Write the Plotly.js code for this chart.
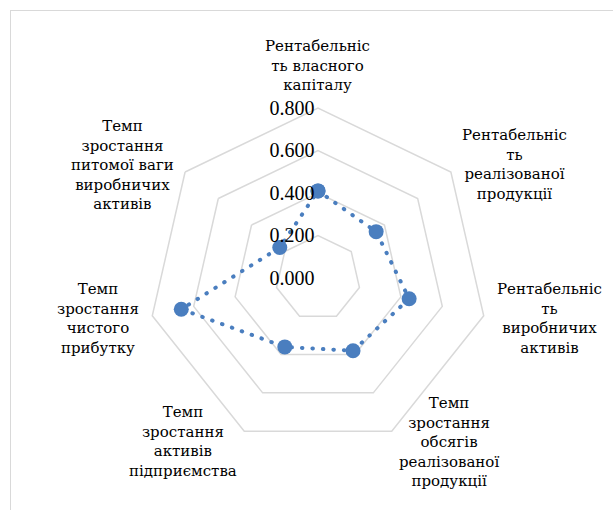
<!DOCTYPE html>
<html>
<head>
<meta charset="utf-8">
<script src="https://cdn.plot.ly/plotly-3.0.1.min.js"></script>
<style>
  body { margin: 0; background: #fff; }
  #frame { position: absolute; left: 10px; top: 10px; width: 640px; height: 540px;
           border: 1px solid #d9d9d9; }
  #radar { position: absolute; left: 0; top: 0; width: 613px; height: 510px; }
  #radar .scatterlayer .js-line { stroke-linecap: round; }
</style>
</head>
<body>
<div id="frame"></div>
<div id="radar"></div>
<script>
// Radar chart of indicators
var categories = [
  "Рентабельніс<br>ть власного<br>капіталу",
  "Рентабельніс<br>ть<br>реалізованої<br>продукції",
  "Рентабельніс<br>ть<br>виробничих<br>активів",
  "Темп<br>зростання<br>обсягів<br>реалізованої<br>продукції",
  "Темп<br>зростання<br>активів<br>підприємства",
  "Темп<br>зростання<br>чистого<br>прибутку",
  "Темп<br>зростання<br>питомої ваги<br>виробничих<br>активів"
];
var values = [0.41, 0.35, 0.44, 0.38, 0.36, 0.66, 0.23];
var tickVals = [0, 0.2, 0.4, 0.6, 0.8];

// close the loop
var thetaLoop = categories.concat([categories[0]]);
var rLoop = values.concat([values[0]]);

var blue = "#4a7ebf";
var grey = "#d9d9d9";
var W = 613, H = 510;
var dom = {x: [0.2414, 0.7961], y: [0.1216, 0.7882]};

// category labels placed just outside the outer polygon, centred lines like Excel
var cx = W * (dom.x[0] + dom.x[1]) / 2;
var cy = H * (dom.y[0] + dom.y[1]) / 2;
var R = W * (dom.x[1] - dom.x[0]) / 2;
var gap = 12;
var annotations = categories.map(function (txt, i) {
  var a = Math.PI / 2 - i * 2 * Math.PI / categories.length;
  var c = Math.cos(a), s = Math.sin(a);
  var px = cx + (R + gap) * c;
  var py = cy + (R + gap) * s;
  return {
    text: txt,
    x: px / W, y: py / H, xref: "paper", yref: "paper",
    xanchor: c > 0.1 ? "left" : (c < -0.1 ? "right" : "center"),
    yanchor: s > 0.9 ? "bottom" : "middle",
    align: "center",
    showarrow: false,
    font: {size: 15, family: "DejaVu Serif", color: "#000"}
  };
});

var data = [{
  type: "scatterpolar",
  theta: thetaLoop,
  r: rLoop,
  mode: "lines+markers",
  line: {color: blue, width: 4, dash: "0.5px,10px"},
  marker: {color: blue, size: 15},
  cliponaxis: false,
  hoverinfo: "skip"
}];

var layout = {
  width: W,
  height: H,
  margin: {l: 0, r: 0, t: 0, b: 0},
  paper_bgcolor: "rgba(0,0,0,0)",
  showlegend: false,
  font: {family: "Liberation Serif", color: "#000"},
  annotations: annotations,
  polar: {
    domain: dom,
    bgcolor: "rgba(0,0,0,0)",
    gridshape: "linear",
    angularaxis: {
      rotation: 90,
      direction: "clockwise",
      showgrid: false,
      showline: true,
      linecolor: grey,
      linewidth: 1.5,
      ticks: "",
      showticklabels: false
    },
    radialaxis: {
      range: [0, 0.8],
      tickvals: tickVals,
      tickformat: ".3f",
      angle: 90,
      side: "counterclockwise",
      tickangle: 90,
      showline: false,
      ticks: "",
      gridcolor: grey,
      gridwidth: 1.5,
      tickfont: {size: 20, family: "Liberation Serif", color: "#000"}
    }
  }
};

Plotly.newPlot("radar", data, layout, {staticPlot: true});
</script>
</body>
</html>
